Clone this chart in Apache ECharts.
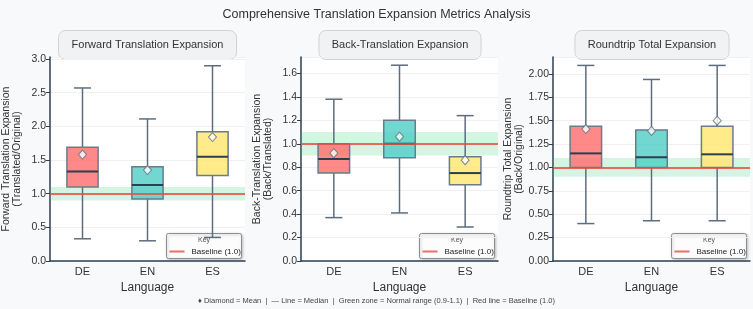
<!DOCTYPE html>
<html>
<head>
<meta charset="utf-8">
<script src="https://cdn.jsdelivr.net/npm/echarts@6/dist/echarts.min.js"></script>
<style>
html,body{margin:0;padding:0;background:#f8f9fa;}
#chart{width:753px;height:309px;}
</style>
</head>
<body>
<div id="chart"></div>
<script>
// ---- data ----
const categories = ['DE', 'EN', 'ES'];
// [min, Q1, median, Q3, max]
const forwardBox = [[0.33, 1.10, 1.33, 1.69, 2.57], [0.30, 0.92, 1.13, 1.40, 2.11], [0.35, 1.27, 1.55, 1.92, 2.90]];
const forwardMean = [1.58, 1.35, 1.84];
const backBox = [[0.37, 0.75, 0.87, 1.00, 1.38], [0.41, 0.88, 1.00, 1.20, 1.67], [0.29, 0.65, 0.75, 0.89, 1.24]];
const backMean = [0.92, 1.06, 0.86];
const roundBox = [[0.40, 1.00, 1.15, 1.44, 2.09], [0.43, 1.00, 1.11, 1.40, 1.94], [0.43, 1.00, 1.14, 1.44, 2.09]];
const roundMean = [1.41, 1.39, 1.50];
const panelTitles = ['Forward Translation Expansion', 'Back-Translation Expansion', 'Roundtrip Total Expansion'];
const yNames = ['Forward Translation Expansion\n(Translated/Original)', 'Back-Translation Expansion\n(Back/Translated)', 'Roundtrip Total Expansion\n(Back/Original)'];
const yMax = [3.03, 1.74, 2.18];
const yInterval = [0.5, 0.2, 0.25];
const yDecimals = [1, 1, 2];
const baseline = 1.0;
const normalRange = [0.9, 1.1];
const mainTitle = 'Comprehensive Translation Expansion Metrics Analysis';
const footer = '\u2666 Diamond = Mean  |  \u2014 Line = Median  |  Green zone = Normal range (0.9-1.1)  |  Red line = Baseline (1.0)';

// ---- style ----
const FONT = "'Liberation Sans', Arial, sans-serif";
const fills = ['rgba(255,107,107,0.8)', 'rgba(78,205,196,0.8)', 'rgba(255,230,109,0.8)'];
const grids = [{left: 49, width: 196}, {left: 301, width: 197}, {left: 553, width: 197}];
const GTOP = 57, GH = 204;

const boxes = [forwardBox, backBox, roundBox];
const means = [forwardMean, backMean, roundMean];

function renderBox(params, api) {
  const x = api.value(0);
  const lo = api.coord([x, api.value(1)]);
  const q1 = api.coord([x, api.value(2)]);
  const md = api.coord([x, api.value(3)]);
  const q3 = api.coord([x, api.value(4)]);
  const hi = api.coord([x, api.value(5)]);
  const band = api.size([1, 0])[0];
  const bw = band * 0.48, cw = band * 0.26;
  const cx = lo[0];
  const wStyle = {stroke: '#5D6D7E', lineWidth: 1.5};
  return {
    type: 'group',
    children: [
      {type: 'line', shape: {x1: cx, y1: q3[1], x2: cx, y2: hi[1]}, style: wStyle},
      {type: 'line', shape: {x1: cx, y1: q1[1], x2: cx, y2: lo[1]}, style: wStyle},
      {type: 'line', shape: {x1: cx - cw / 2, y1: hi[1], x2: cx + cw / 2, y2: hi[1]}, style: wStyle},
      {type: 'line', shape: {x1: cx - cw / 2, y1: lo[1], x2: cx + cw / 2, y2: lo[1]}, style: wStyle},
      {type: 'rect', shape: {x: cx - bw / 2, y: q3[1], width: bw, height: q1[1] - q3[1]},
        style: {fill: fills[params.dataIndex], stroke: '#6B7B8C', lineWidth: 1.5}},
      {type: 'line', shape: {x1: cx - bw / 2, y1: md[1], x2: cx + bw / 2, y2: md[1]},
        style: {stroke: '#2C3E50', lineWidth: 2}}
    ]
  };
}

const option = {
  backgroundColor: '#f8f9fa',
  animation: false,
  textStyle: {fontFamily: FONT},
  title: {text: mainTitle, left: 'center', top: 3,
    textStyle: {fontSize: 12.5, fontWeight: 'normal', color: '#333', fontFamily: FONT}},
  grid: [], xAxis: [], yAxis: [], series: [], graphic: []
};

for (let i = 0; i < 3; i++) {
  const g = grids[i];
  option.grid.push({left: g.left, width: g.width, top: GTOP, height: GH,
    show: true, backgroundColor: '#ffffff', borderWidth: 0});
  option.xAxis.push({
    type: 'category', gridIndex: i, data: categories,
    name: 'Language', nameLocation: 'middle', nameGap: 20,
    nameTextStyle: {fontSize: 12, color: '#333', fontFamily: FONT},
    axisLine: {lineStyle: {color: '#2C3E50', width: 1.5}},
    axisTick: {alignWithLabel: true, length: 4, lineStyle: {color: '#2C3E50'}},
    axisLabel: {fontSize: 11, color: '#333', margin: 5, fontFamily: FONT},
    splitLine: {show: false}
  });
  const dec = yDecimals[i];
  option.yAxis.push({
    type: 'value', gridIndex: i, min: 0, max: yMax[i], interval: yInterval[i],
    name: yNames[i], nameLocation: 'middle', nameRotate: 90, nameGap: 27,
    nameTextStyle: {fontSize: 10.5, color: '#333', lineHeight: 11, fontFamily: FONT},
    axisLine: {show: true, lineStyle: {color: '#2C3E50', width: 1.5}},
    axisTick: {show: true, length: 4, lineStyle: {color: '#2C3E50'}},
    axisLabel: {fontSize: 10.5, color: '#333', margin: 4, showMaxLabel: false,
      formatter: v => v.toFixed(dec), fontFamily: FONT},
    splitLine: {show: true, lineStyle: {color: '#f0f0f0', width: 1}}
  });
  // reference band and baseline
  option.series.push({
    type: 'line', name: 'Baseline (1.0)', xAxisIndex: i, yAxisIndex: i, data: [], z: 1,
    silent: true, symbol: 'none',
    markArea: {silent: true, itemStyle: {color: 'rgba(46,204,113,0.2)'},
      data: [[{yAxis: normalRange[0]}, {yAxis: normalRange[1]}]]},
    markLine: {silent: true, symbol: 'none', label: {show: false},
      lineStyle: {color: 'rgba(231,76,60,0.8)', width: 2, type: 'solid'},
      data: [{yAxis: baseline}]}
  });
  option.series.push({
    type: 'custom', xAxisIndex: i, yAxisIndex: i, z: 3,
    renderItem: renderBox,
    encode: {x: 0, y: [1, 2, 3, 4, 5]},
    data: boxes[i].map((b, k) => [k].concat(b))
  });
  option.series.push({
    type: 'scatter', xAxisIndex: i, yAxisIndex: i, z: 4,
    symbol: 'diamond', symbolSize: [8, 9],
    itemStyle: {color: '#ffffff', borderColor: '#5D6D7E', borderWidth: 1},
    data: means[i].map((m, k) => [k, m])
  });
  // panel title box
  const cx = g.left + g.width / 2;
  const tw = [178, 162, 154][i];
  option.graphic.push({
    type: 'group', left: cx - tw / 2, top: 30, z: 100,
    children: [
      {type: 'rect', shape: {x: 0, y: 0, width: tw, height: 29, r: 7},
        style: {fill: '#f1f2f3', stroke: '#d0d3d6', lineWidth: 1}},
      {type: 'text', x: tw / 2, y: 14.5,
        style: {text: panelTitles[i], fontSize: 11, fill: '#333', align: 'center', verticalAlign: 'middle', fontFamily: FONT}}
    ]
  });
  // key legend box
  const lw = 75, lx = g.left + g.width - lw - 4, ly = 233;
  option.graphic.push({
    type: 'group', left: lx, top: ly, z: 100,
    children: [
      {type: 'rect', shape: {x: 0, y: 0, width: lw, height: 25, r: 2},
        style: {fill: 'rgba(255,255,255,0.95)', stroke: '#8a8f94', lineWidth: 1,
          shadowBlur: 3, shadowColor: 'rgba(0,0,0,0.25)', shadowOffsetX: 1, shadowOffsetY: 1}},
      {type: 'text', x: lw / 2, y: 7,
        style: {text: 'Key', fontSize: 7, fill: '#555', align: 'center', verticalAlign: 'middle', fontFamily: FONT}},
      {type: 'line', shape: {x1: 3, y1: 18, x2: 18, y2: 18},
        style: {stroke: 'rgba(231,76,60,0.8)', lineWidth: 2}},
      {type: 'text', x: 25, y: 18,
        style: {text: 'Baseline (1.0)', fontSize: 8, fill: '#222', align: 'left', verticalAlign: 'middle', fontFamily: FONT}}
    ]
  });
}
option.graphic.push({
  type: 'text', left: 'center', top: 297, z: 100,
  style: {text: footer, fontSize: 7.5, fill: '#444', fontFamily: FONT}
});

const chart = echarts.init(document.getElementById('chart'), null, {renderer: 'canvas'});
chart.setOption(option);
</script>
</body>
</html>
